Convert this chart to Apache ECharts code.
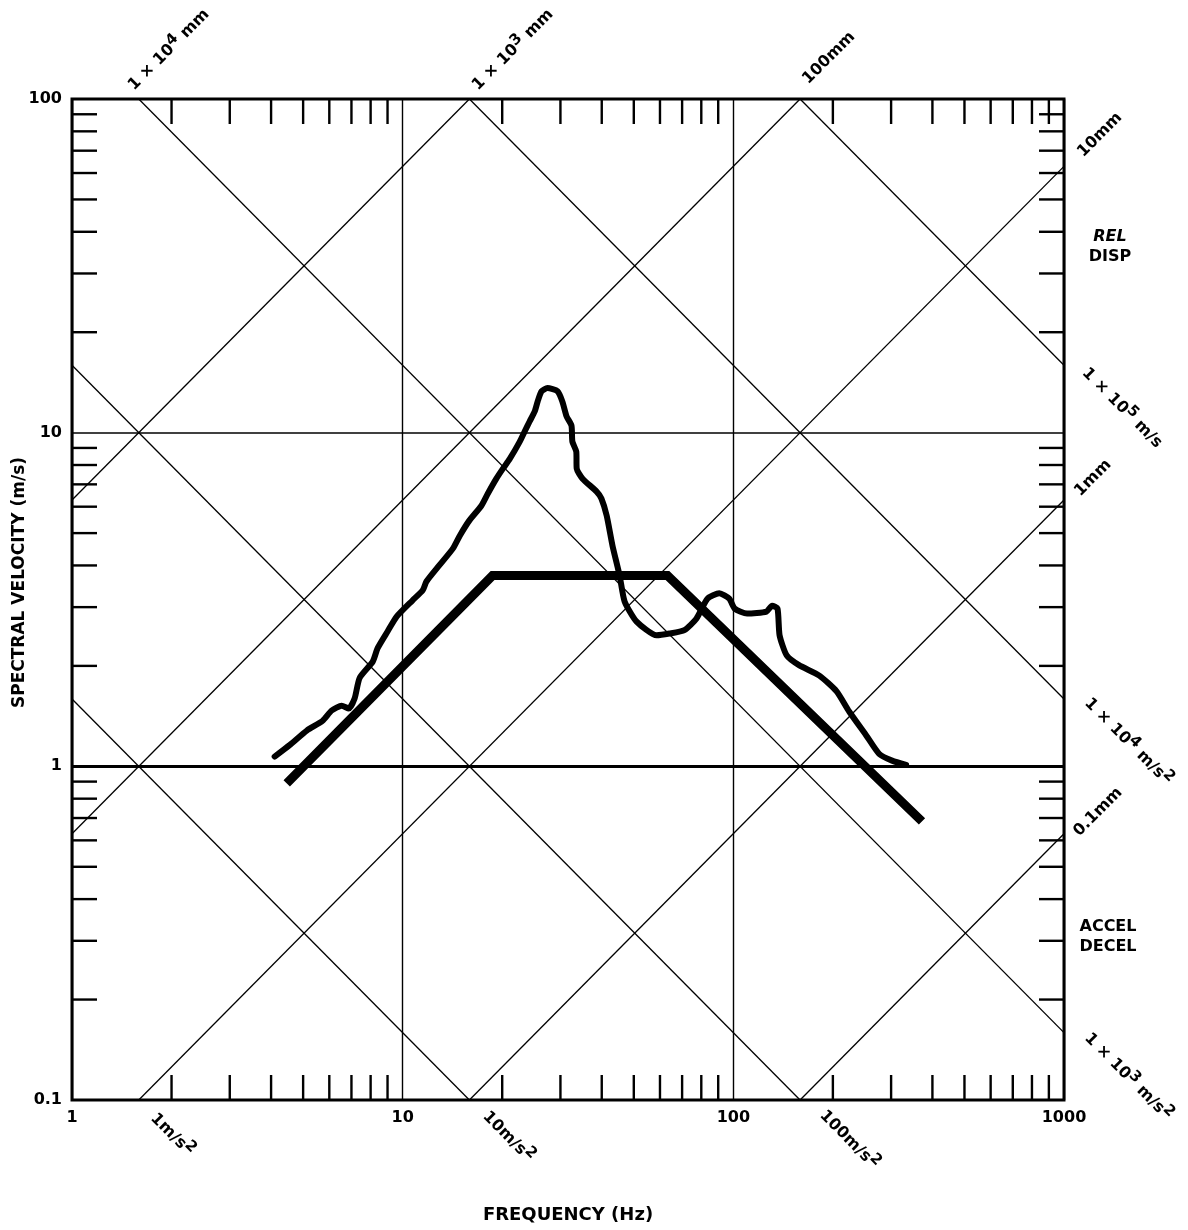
<!DOCTYPE html>
<html>
<head>
<meta charset="utf-8">
<script src="https://cdn.jsdelivr.net/npm/echarts@6/dist/echarts.min.js"></script>
<style>html,body{margin:0;padding:0;background:#fff}#c{width:1188px;height:1230px}</style>
</head>
<body>
<div id="c"></div>
<script>
// ---------- data ----------
const xTickValues = [1, 10, 100, 1000];
const yTickValues = [0.1, 1, 10, 100];
const minorMultipliers = [2, 3, 4, 5, 6, 7, 8, 9];
const accelLines = [10, 100, 1000, 10000, 100000];      // m/s^2 (constant acceleration lines)
const dispLinesMm = [1000, 100, 10, 1, 0.1];            // mm (constant displacement lines)

const measuredFreq = [4.1, 4.56, 5.13, 5.73, 6.1, 6.54, 6.87, 7.16, 7.41, 8.12, 8.4, 9.01, 9.59, 10.7, 11.5, 11.8, 12.9, 14.2, 14.9, 15.9, 17.3, 18.1, 19.2, 20.1, 21.1, 22.6, 23.4, 24.2, 25.1, 25.6, 26.3, 27.4, 29.4, 30.4, 31.3, 32.4, 32.6, 33.5, 33.6, 35.0, 38.6, 39.9, 41.4, 43.1, 45.3, 46.9, 50.9, 58.6, 64.1, 71.1, 77.3, 83.5, 90.7, 97.2, 101, 110, 126, 131, 136, 138, 145, 158, 182, 205, 224, 252, 276, 302, 333];
const measuredVel = [1.07, 1.16, 1.28, 1.37, 1.47, 1.52, 1.49, 1.6, 1.84, 2.06, 2.26, 2.54, 2.81, 3.14, 3.37, 3.58, 4.0, 4.5, 4.92, 5.45, 6.04, 6.57, 7.28, 7.8, 8.36, 9.4, 10.1, 10.8, 11.6, 12.4, 13.3, 13.6, 13.3, 12.4, 11.2, 10.5, 9.4, 8.77, 7.8, 7.28, 6.66, 6.35, 5.64, 4.59, 3.73, 3.12, 2.72, 2.47, 2.5, 2.56, 2.77, 3.18, 3.3, 3.18, 2.97, 2.87, 2.91, 3.03, 2.97, 2.47, 2.15, 2.01, 1.87, 1.68, 1.46, 1.24, 1.09, 1.04, 1.01];

const designFreq = [4.46, 18.7, 63.2, 372];
const designVel = [0.889, 3.73, 3.73, 0.684];

// ---------- helpers ----------
const FMIN = 1, FMAX = 1000, VMIN = 0.1, VMAX = 100;
const FONT = 'DejaVu Sans';

function accelSeg(a) { // v = a / (2 pi f)
  const k = a / (2 * Math.PI);
  const f1 = Math.max(FMIN, k / VMAX), f2 = Math.min(FMAX, k / VMIN);
  return [[f1, k / f1], [f2, k / f2]];
}
function dispSeg(dmm) { // v = 2 pi f d
  const k = 2 * Math.PI * dmm / 1000;
  const f1 = Math.max(FMIN, VMIN / k), f2 = Math.min(FMAX, VMAX / k);
  return [[f1, k * f1], [f2, k * f2]];
}
function fmt(v) { return v >= 1 ? String(Math.round(v)) : String(+v.toFixed(1)); }

const tickData = [];
[1, 10, 100].forEach(d => minorMultipliers.forEach(m => {
  const f = +(m * d).toPrecision(3);
  tickData.push([f, VMIN, 0], [f, VMAX, 1]);
}));
[0.1, 1, 10].forEach(d => minorMultipliers.forEach(m => {
  const v = +(m * d).toPrecision(3);
  tickData.push([FMIN, v, 2], [FMAX, v, 3]);
}));

const diagSeries = [];
accelLines.forEach(a => diagSeries.push({
  type: 'line', data: accelSeg(a), symbol: 'none', silent: true, z: 2,
  lineStyle: { color: '#000', width: 1.3 }
}));
dispLinesMm.forEach(d => diagSeries.push({
  type: 'line', data: dispSeg(d), symbol: 'none', silent: true, z: 2,
  lineStyle: { color: '#000', width: 1.3 }
}));

const chart = echarts.init(document.getElementById('c'));

const labelStyle = { fontFamily: FONT, fontWeight: 'bold', fontSize: 16, color: '#000' };

chart.setOption({
  animation: false,
  backgroundColor: '#fff',
  grid: { left: 72, top: 99, right: 124, bottom: 130, outerBoundsMode: 'none', containLabel: false, show: true, borderColor: '#000', borderWidth: 3, backgroundColor: 'transparent' },
  xAxis: {
    type: 'log', logBase: 10, min: FMIN, max: FMAX, splitNumber: 3,
    axisLine: { show: false }, axisTick: { show: false },
    axisLabel: Object.assign({ margin: 10, formatter: v => fmt(v) }, labelStyle),
    splitLine: { show: true, lineStyle: { color: '#000', width: 1.4 } },
    name: 'FREQUENCY (Hz)', nameLocation: 'middle', nameGap: 106, nameMoveOverlap: false,
    nameTextStyle: { fontFamily: FONT, fontWeight: 'bold', fontSize: 18, color: '#000' }
  },
  yAxis: {
    type: 'log', logBase: 10, min: VMIN, max: VMAX, splitNumber: 3,
    axisLine: { show: false }, axisTick: { show: false },
    axisLabel: Object.assign({ margin: 10, formatter: v => fmt(v) }, labelStyle),
    splitLine: { show: true, lineStyle: { color: '#000', width: 1.6 } },
    name: 'SPECTRAL VELOCITY (m/s)', nameLocation: 'middle', nameGap: 44, nameMoveOverlap: false,
    nameTextStyle: { fontFamily: FONT, fontWeight: 'bold', fontSize: 17, color: '#000', padding: [0, 0, 0, 34] }
  },
  series: diagSeries.concat([
    {
      type: 'custom', coordinateSystem: 'cartesian2d', silent: true, clip: false, z: 4,
      encode: { x: 0, y: 1 },
      data: tickData,
      renderItem(params, api) {
        const p = api.coord([api.value(0), api.value(1)]);
        const s = api.value(2), L = 25;
        let q;
        if (s === 0) q = [p[0], p[1] - L];
        else if (s === 1) q = [p[0], p[1] + L];
        else if (s === 2) q = [p[0] + L, p[1]];
        else q = [p[0] - L, p[1]];
        return { type: 'line', shape: { x1: p[0], y1: p[1], x2: q[0], y2: q[1] }, style: { stroke: '#000', lineWidth: 2.4 } };
      }
    },
    {
      name: 'Design', type: 'line', z: 6, symbol: 'none', silent: true,
      data: designFreq.map((f, i) => [f, designVel[i]]),
      lineStyle: { color: '#000', width: 9, cap: 'butt', join: 'miter' },
      markLine: {
        silent: true, symbol: 'none', label: { show: false },
        lineStyle: { color: '#000', width: 3, type: 'solid' },
        data: [{ yAxis: 1 }]
      }
    },
    {
      name: 'Measured', type: 'line', z: 7, symbol: 'none', silent: true, smooth: 0.2,
      data: measuredFreq.map((f, i) => [f, measuredVel[i]]),
      lineStyle: { color: '#000', width: 6, cap: 'round', join: 'round' }
    }
  ])
});

// ---------- annotation texts ----------
const R = Math.PI / 4;
const sup = { fontFamily: FONT, fontWeight: 'bold', fontSize: 15, padding: [0, 0, 10, 0], fill: '#000' };
const ital = { fontFamily: FONT, fontWeight: 'bold', fontStyle: 'italic', fontSize: 16, fill: '#000' };
const notes = [
  { t: '1 × 10{s|4} mm', x: 169, y: 50, r: R },
  { t: '1 × 10{s|3} mm', x: 513, y: 50, r: R },
  { t: '100mm', x: 829, y: 58, r: R },
  { t: '10mm', x: 1100, y: 135, r: R },
  { t: '{i|REL}\nDISP', x: 1110, y: 247, r: 0 },
  { t: '1 × 10{s|5} m/s', x: 1122, y: 408, r: -R },
  { t: '1mm', x: 1093, y: 478, r: R },
  { t: '1 × 10{s|4} m/s{s|2}', x: 1128, y: 742, r: -R },
  { t: '0.1mm', x: 1098, y: 812, r: R },
  { t: 'ACCEL\nDECEL', x: 1108, y: 937, r: 0 },
  { t: '1 × 10{s|3} m/s{s|2}', x: 1128, y: 1077, r: -R },
  { t: '1m/s{s|2}', x: 172, y: 1135, r: -R },
  { t: '10m/s{s|2}', x: 508, y: 1137, r: -R },
  { t: '100m/s{s|2}', x: 849, y: 1140, r: -R }
];
chart.setOption({
  graphic: notes.map(n => ({
    type: 'text', x: n.x, y: n.y, rotation: n.r, silent: true, z: 10,
    style: {
      text: n.t, fontFamily: FONT, fontWeight: 'bold', fontSize: 16, fill: '#000',
      align: 'center', verticalAlign: 'middle', lineHeight: 20,
      rich: { s: sup, i: ital }
    }
  }))
});
</script>
</body>
</html>
